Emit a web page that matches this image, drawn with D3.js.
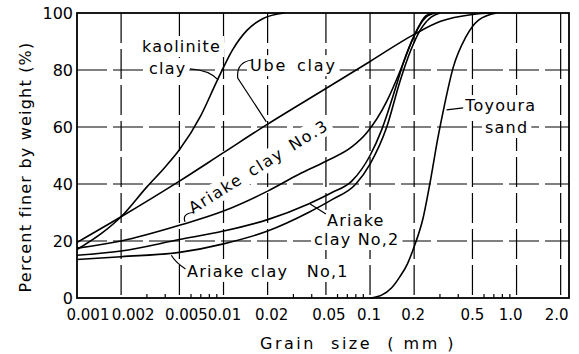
<!DOCTYPE html>
<html>
<head>
<meta charset="UTF-8">
<title>Grain size distribution</title>
<style>
  body { margin: 0; background: #fff; }
  svg { display: block; font-family: "DejaVu Sans", sans-serif; }
  .grid line { stroke: #000; stroke-width: 1.2; stroke-dasharray: 30 6; }
  .curve { fill: none; stroke: #000; stroke-width: 1.6; }
  .lead { fill: none; stroke: #000; stroke-width: 1.2; }
  .lbl { font-size: 16px; fill: #000; letter-spacing: 1.2px; }
  .tick { font-size: 15px; fill: #000; paint-order: stroke; stroke: #fff; stroke-width: 4px; }
</style>
</head>
<body>
<svg id="chart" width="579" height="354"></svg>
<script src="https://d3js.org/d3.v7.min.js"></script>
<script>
// grain size (mm) vs percent finer by weight
var kaolinite = [[0.001,17],[0.0015,23],[0.002,28.5],[0.003,39],[0.004,46],[0.005,52],
    [0.007,64],[0.009,76],[0.0115,87],[0.0145,94],[0.0185,98],[0.026,100]];
var ubeClay = [[0.001,19.5],[0.002,28.5],[0.005,41],[0.01,51],[0.02,61],[0.05,73.5],
    [0.1,83],[0.2,92.5],[0.3,97],[0.5,99.5],[0.7,100]];
var ariake3 = [[0.001,17.5],[0.002,20],[0.005,25.5],[0.01,30.5],[0.02,37.5],[0.033,43.5],
    [0.05,48],[0.075,53],[0.095,58],[0.13,69],[0.16,79.5],[0.2,92],[0.24,99],[0.27,100]];
var ariake2 = [[0.001,15],[0.002,16.5],[0.005,20.5],[0.01,23.5],[0.02,27.5],[0.038,33],
    [0.055,37],[0.075,41],[0.1,50],[0.12,59],[0.15,74],[0.17,83],[0.2,92],[0.24,98.5],[0.28,100]];
var ariake1 = [[0.001,13.5],[0.002,14.5],[0.005,16],[0.01,19],[0.02,23.5],[0.038,30],
    [0.055,34.5],[0.08,40],[0.1,47],[0.13,60],[0.16,76],[0.19,87],[0.22,94],[0.26,98.5],[0.3,100]];
var toyoura = [[0.1,0],[0.12,1],[0.14,3.5],[0.16,7.5],[0.18,12],[0.2,18],[0.23,28],[0.26,42],
    [0.29,56],[0.32,67],[0.37,81],[0.45,91.5],[0.55,97.5],[0.73,100]];

var xTickValues = [0.001,0.002,0.005,0.01,0.02,0.05,0.1,0.2,0.5,1,2];
var xTickLabels = ["0.001","0.002","0.005","0.01","0.02","0.05","0.1","0.2","0.5","1.0","2.0"];
var xTickNudge = [11,12,7,1,4,3,-1,-1,0,-6,-4];
var yTickValues = [0,20,40,60,80,100];

var svg = d3.select("#chart");
var x = d3.scaleLog().domain([0.001, 2.28]).range([77, 569]);
var y = d3.scaleLinear().domain([0, 100]).range([298, 13]);

// grid
var grid = svg.append("g").attr("class", "grid");
grid.selectAll("line.v").data(xTickValues.slice(1)).enter().append("line")
    .attr("x1", function(d) { return x(d); }).attr("x2", function(d) { return x(d); })
    .attr("y1", y(100)).attr("y2", y(0));
grid.selectAll("line.h").data(yTickValues.slice(1, -1)).enter().append("line")
    .attr("x1", x.range()[0]).attr("x2", x.range()[1])
    .attr("y1", function(d) { return y(d); }).attr("y2", function(d) { return y(d); });

// minor ticks on the bottom edge
var minor = x.ticks().filter(function(d) {
    var m = Math.round(d / Math.pow(10, Math.floor(Math.log10(d) + 1e-9)));
    return d > 0.002 && d < 1 && m !== 1 && m !== 2 && m !== 5;
});
svg.append("g").selectAll("line").data(minor).enter().append("line")
    .attr("x1", function(d) { return x(d); }).attr("x2", function(d) { return x(d); })
    .attr("y1", y(0)).attr("y2", y(0) - 4)
    .attr("stroke", "#000").attr("stroke-width", 1.2);

// labels on white boxes, drawn before curves so they only break the grid
var lbl = svg.append("g");
function label(d, p, txt, rot, spacing) {
    var g = lbl.append("g");
    if (rot) g.attr("transform", "rotate(" + rot + "," + x(d) + "," + y(p) + ")");
    var t = g.append("text").attr("class", "lbl")
        .attr("x", x(d)).attr("y", y(p)).text(txt);
    if (spacing) t.style("letter-spacing", spacing + "px").style("word-spacing", "3px");
    var b = t.node().getBBox();
    g.insert("rect", "text").attr("x", b.x - 3).attr("y", b.y - 1)
        .attr("width", b.width + 6).attr("height", b.height + 2).attr("fill", "#fff");
}
label(0.00278, 86.3, "kaolinite");
label(0.0031, 78.6, "clay");
label(0.01515, 79.6, "Ube clay", 0, 1.8);
label(0.0062, 29.5, "Ariake clay No.3", -32, 1.6);
label(0.0509, 25.3, "Ariake");
label(0.0415, 18.6, "clay No,2");
label(0.00564, 7.4, "Ariake clay");
label(0.037, 7.4, "No,1");
label(0.4464, 65.6, "Toyoura");
label(0.6095, 57.9, "sand");

// curves
var line = d3.line()
    .x(function(d) { return x(d[0]); })
    .y(function(d) { return y(d[1]); })
    .curve(d3.curveMonotoneX);
[kaolinite, ubeClay, ariake3, ariake2, ariake1, toyoura].forEach(function(s) {
    svg.append("path").attr("class", "curve").attr("d", line(s));
});

// leader lines
function lead(pts) {
    var p = pts.map(function(d) { return [x(d[0]), y(d[1])]; });
    var s = "M" + p[0];
    if (p.length === 3) s += "Q" + p[1] + " " + p[2];
    else if (p.length === 4) s += "Q" + p[1] + " " + p[2] + "L" + p[3];
    else s += "L" + p[1];
    svg.append("path").attr("class", "lead").attr("d", s);
}
lead([[0.0059, 80.4], [0.0080, 80], [0.0092, 76.5]]);
lead([[0.0157, 83.5], [0.0122, 82.8], [0.0125, 77.2], [0.0196, 61.8]]);
lead([[0.0062, 30], [0.0052, 29.6], [0.00546, 26.7]]);
lead([[0.05, 29.5], [0.039, 33]]);
lead([[0.0055, 10.2], [0.0047, 12.5], [0.0044, 15]]);
lead([[0.432, 66.7], [0.333, 66]]);

// frame
svg.append("rect").attr("x", 77).attr("y", 13).attr("width", 492).attr("height", 285)
    .attr("fill", "none").attr("stroke", "#000").attr("stroke-width", 1.8);

// tick labels
svg.append("g").selectAll("text").data(yTickValues).enter().append("text")
    .attr("class", "tick").style("font-size", "16px")
    .attr("x", 73).attr("y", function(d) { return y(d) + 6; })
    .attr("text-anchor", "end").text(function(d) { return d; });
svg.append("g").selectAll("text").data(xTickValues).enter().append("text")
    .attr("class", "tick")
    .attr("x", function(d, i) { return x(d) + xTickNudge[i]; }).attr("y", 320)
    .attr("text-anchor", "middle").text(function(d, i) { return xTickLabels[i]; });

// axis titles
svg.append("text").attr("x", 260).attr("y", 349).style("font-size", "16px")
    .style("letter-spacing", "2.5px").style("white-space", "pre")
    .text("Grain  size  ( mm )");
svg.append("text").attr("transform", "translate(31,167) rotate(-90)")
    .attr("text-anchor", "middle").style("font-size", "16px")
    .style("letter-spacing", "1.2px").text("Percent finer by weight (%)");
</script>
</body>
</html>
